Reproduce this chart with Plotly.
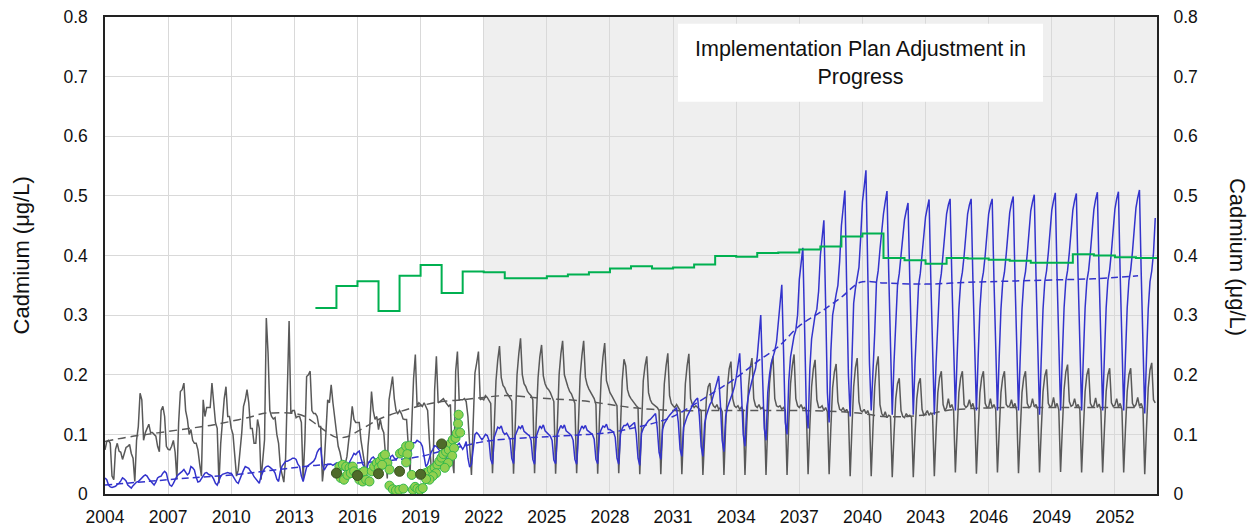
import plotly.graph_objects as go

FONT = "Liberation Sans, Arial, sans-serif"
START_YEAR = 2004

# Simulated monthly cadmium, scenario 1 (grey), one row per year, Jan..Dec
GRAY_MONTHLY = [
    [.074, .088, .090, .085, .030, .024, .075, .085, .072, .070, .058, .070],  # 2004
    [.078, .080, .083, .068, .060, .021, .090, .113, .169, .158, .090, .103],  # 2005
    [.110, .117, .103, .103, .100, .097, .080, .071, .140, .147, .130, .080],  # 2006
    [.075, .074, .080, .090, .070, .025, .120, .172, .175, .186, .140, .125],  # 2007
    [.100, .108, .090, .085, .085, .074, .050, .030, .158, .130, .145, .145],  # 2008
    [.145, .186, .153, .120, .110, .018, .085, .125, .160, .180, .130, .130],  # 2009
    [.110, .100, .060, .030, .040, .070, .103, .147, .158, .175, .153, .110],  # 2010
    [.110, .085, .085, .125, .110, .024, .060, .091, .295, .236, .140, .130],  # 2011
    [.126, .128, .100, .085, .046, .030, .020, .060, .169, .290, .135, .140],  # 2012
    [.140, .128, .130, .130, .120, .024, .090, .197, .200, .206, .140, .135],  # 2013
    [.135, .130, .113, .113, .021, .050, .103, .158, .153, .183, .153, .126],  # 2014
    [.103, .080, .070, .058, .041, .050, .063, .090, .113, .147, .125, .120],  # 2015
    [.120, .120, .090, .070, .052, .021, .080, .113, .172, .140, .125, .130],  # 2016
    [.108, .125, .110, .103, .070, .026, .158, .180, .197, .160, .140, .135],  # 2017
    [.140, .135, .126, .125, .125, .080, .035, .120, .194, .234, .147, .153],  # 2018
    [.150, .147, .153, .145, .140, .090, .046, .021, .175, .231, .153, .155],  # 2019
    [.158, .160, .155, .150, .147, .150, .060, .035, .206, .239, .158, .158],  # 2020
    [.158, .160, .155, .130, .080, .032, .120, .203, .220, .239, .158, .160],  # 2021
    [.158, .165, .162, .158, .152, .035, .125, .190, .225, .248, .195, .182],  # 2022
    [.178, .170, .166, .162, .156, .034, .130, .200, .235, .261, .200, .185],  # 2023
    [.180, .172, .168, .165, .158, .035, .128, .195, .230, .250, .198, .185],  # 2024
    [.178, .175, .170, .163, .155, .034, .130, .200, .235, .257, .200, .188],  # 2025
    [.180, .172, .168, .160, .152, .035, .130, .198, .232, .257, .196, .183],  # 2026
    [.176, .170, .165, .160, .150, .034, .125, .195, .230, .253, .190, .178],  # 2027
    [.170, .165, .160, .155, .148, .035, .120, .190, .226, .215, .175, .165],  # 2028
    [.160, .155, .152, .148, .145, .033, .120, .190, .215, .231, .170, .158],  # 2029
    [.152, .150, .148, .145, .140, .033, .115, .185, .215, .236, .165, .152],  # 2030
    [.148, .145, .150, .145, .140, .033, .115, .185, .215, .235, .160, .150],  # 2031
    [.145, .148, .145, .142, .140, .032, .110, .160, .180, .186, .155, .148],  # 2032
    [.145, .150, .142, .145, .138, .032, .115, .180, .210, .222, .160, .148],  # 2033
    [.145, .148, .142, .146, .140, .032, .115, .180, .212, .228, .160, .148],  # 2034
    [.145, .150, .143, .145, .140, .032, .118, .185, .215, .231, .160, .148],  # 2035
    [.146, .148, .142, .145, .140, .032, .120, .185, .215, .234, .160, .148],  # 2036
    [.145, .150, .143, .145, .140, .033, .115, .180, .210, .225, .158, .145],  # 2037
    [.145, .148, .140, .145, .138, .033, .112, .178, .205, .218, .155, .142],  # 2038
    [.140, .145, .138, .142, .135, .030, .110, .180, .212, .228, .155, .140],  # 2039
    [.138, .142, .135, .140, .132, .030, .110, .180, .215, .231, .150, .135],  # 2040
    [.130, .138, .128, .132, .130, .028, .100, .160, .185, .194, .140, .130],  # 2041
    [.128, .135, .130, .132, .128, .028, .100, .160, .185, .194, .142, .132],  # 2042
    [.135, .140, .132, .136, .132, .030, .105, .170, .195, .206, .150, .140],  # 2043
    [.145, .160, .145, .150, .140, .036, .105, .170, .195, .206, .150, .145],  # 2044
    [.148, .158, .145, .152, .140, .034, .105, .170, .195, .206, .152, .145],  # 2045
    [.146, .160, .144, .150, .142, .036, .105, .170, .195, .206, .150, .146],  # 2046
    [.148, .158, .145, .152, .140, .035, .105, .170, .195, .206, .152, .145],  # 2047
    [.147, .160, .146, .150, .142, .036, .108, .172, .198, .209, .152, .146],  # 2048
    [.148, .162, .145, .152, .141, .037, .110, .175, .205, .217, .155, .147],  # 2049
    [.149, .160, .146, .150, .142, .036, .108, .172, .200, .211, .152, .146],  # 2050
    [.148, .161, .145, .151, .141, .036, .108, .172, .200, .211, .153, .147],  # 2051
    [.149, .160, .146, .152, .142, .036, .108, .172, .200, .211, .152, .146],  # 2052
    [.150, .162, .147, .152, .143, .033, .110, .178, .208, .220, .158, .153],  # 2053
]

# Simulated monthly cadmium, scenario 2 (blue), one row per year, Jan..Dec
BLUE_MONTHLY = [
    [.027, .024, .015, .012, .011, .012, .013, .016, .018, .022, .027, .025],  # 2004
    [.022, .015, .012, .010, .014, .018, .020, .021, .024, .028, .030, .032],  # 2005
    [.030, .025, .021, .017, .015, .020, .027, .029, .030, .035, .038, .035],  # 2006
    [.022, .015, .013, .018, .025, .030, .033, .035, .038, .041, .036, .032],  # 2007
    [.035, .046, .044, .040, .028, .020, .021, .025, .030, .035, .036, .033],  # 2008
    [.032, .030, .025, .018, .015, .022, .030, .033, .034, .035, .036, .035],  # 2009
    [.035, .030, .024, .020, .018, .026, .035, .040, .046, .045, .043, .038],  # 2010
    [.035, .029, .025, .020, .018, .030, .038, .043, .046, .047, .045, .043],  # 2011
    [.040, .035, .025, .021, .038, .047, .052, .055, .055, .056, .058, .060],  # 2012
    [.060, .058, .050, .046, .030, .021, .035, .045, .048, .050, .053, .055],  # 2013
    [.060, .070, .075, .077, .050, .040, .045, .050, .050, .050, .048, .050],  # 2014
    [.052, .050, .048, .045, .040, .040, .045, .050, .055, .062, .068, .066],  # 2015
    [.070, .072, .060, .050, .045, .040, .050, .055, .060, .062, .058, .055],  # 2016
    [.055, .058, .062, .065, .050, .045, .050, .063, .065, .060, .058, .062],  # 2017
    [.065, .068, .070, .068, .055, .050, .070, .080, .086, .086, .090, .088],  # 2018
    [.086, .080, .060, .046, .050, .060, .070, .075, .081, .080, .075, .072],  # 2019
    [.070, .072, .068, .060, .048, .050, .070, .078, .081, .082, .085, .080],  # 2020
    [.075, .080, .088, .060, .045, .050, .080, .100, .103, .100, .095, .091],  # 2021
    [.095, .100, .098, .090, .058, .050, .095, .104, .112, .110, .114, .104],  # 2022
    [.100, .102, .098, .092, .060, .051, .098, .106, .113, .110, .115, .105],  # 2023
    [.102, .100, .098, .090, .058, .050, .097, .107, .114, .110, .116, .106],  # 2024
    [.103, .100, .097, .090, .057, .051, .100, .108, .115, .110, .116, .106],  # 2025
    [.104, .101, .098, .090, .058, .050, .100, .108, .114, .110, .115, .107],  # 2026
    [.105, .102, .100, .092, .058, .051, .100, .108, .114, .112, .117, .108],  # 2027
    [.108, .106, .104, .095, .060, .050, .100, .110, .115, .115, .118, .112],  # 2028
    [.115, .118, .120, .100, .060, .048, .102, .110, .115, .120, .123, .125],  # 2029
    [.128, .132, .135, .110, .070, .058, .108, .118, .124, .128, .132, .136],  # 2030
    [.138, .142, .144, .120, .075, .063, .112, .122, .130, .136, .142, .150],  # 2031
    [.154, .158, .161, .130, .080, .063, .118, .132, .142, .150, .155, .165],  # 2032
    [.175, .188, .198, .150, .090, .071, .130, .145, .155, .162, .170, .180],  # 2033
    [.195, .215, .236, .170, .100, .080, .145, .165, .180, .190, .200, .210],  # 2034
    [.230, .260, .300, .200, .110, .090, .170, .200, .220, .230, .240, .255],  # 2035
    [.290, .320, .351, .240, .120, .100, .190, .230, .250, .265, .275, .300],  # 2036
    [.360, .390, .413, .280, .140, .110, .210, .260, .285, .300, .310, .340],  # 2037
    [.400, .430, .459, .320, .170, .120, .240, .300, .320, .335, .350, .390],  # 2038
    [.450, .480, .509, .350, .200, .130, .250, .320, .345, .360, .380, .430],  # 2039
    [.490, .515, .543, .380, .220, .140, .200, .270, .355, .375, .410, .445],  # 2040
    [.470, .490, .508, .370, .240, .133, .220, .300, .350, .370, .400, .435],  # 2041
    [.460, .475, .488, .360, .230, .133, .220, .300, .350, .370, .400, .440],  # 2042
    [.465, .480, .494, .360, .230, .133, .220, .300, .350, .370, .400, .440],  # 2043
    [.470, .485, .495, .360, .230, .140, .230, .310, .355, .372, .400, .440],  # 2044
    [.470, .485, .495, .360, .230, .140, .230, .310, .355, .372, .400, .440],  # 2045
    [.470, .485, .495, .360, .230, .140, .230, .310, .355, .372, .402, .442],  # 2046
    [.472, .488, .499, .362, .232, .140, .230, .310, .356, .373, .403, .444],  # 2047
    [.475, .490, .502, .365, .235, .133, .228, .310, .356, .374, .404, .445],  # 2048
    [.476, .492, .505, .366, .236, .140, .230, .312, .357, .375, .405, .446],  # 2049
    [.476, .492, .504, .366, .236, .140, .230, .312, .357, .375, .405, .446],  # 2050
    [.477, .494, .506, .367, .237, .140, .230, .312, .358, .376, .406, .447],  # 2051
    [.478, .495, .507, .368, .238, .140, .230, .312, .358, .376, .406, .447],  # 2052
    [.480, .497, .510, .370, .238, .135, .228, .310, .356, .374, .404, .463],  # 2053
]

# Long-term trend of each scenario
GRAY_TREND_X = [2004, 2005, 2006, 2007, 2008, 2009, 2010, 2011, 2011.5, 2012, 2013,
                2013.5, 2014, 2014.5, 2015, 2015.5, 2016, 2016.5, 2017, 2018, 2019,
                2020, 2021, 2022, 2023, 2024, 2025, 2026, 2027, 2028, 2029, 2030,
                2031, 2033, 2035, 2037, 2039, 2040, 2041, 2042, 2043, 2044, 2045,
                2047, 2049, 2051, 2053.3]
GRAY_TREND_Y = [.088, .095, .100, .105, .110, .115, .122, .130, .135, .136, .135,
                .130, .118, .105, .095, .096, .105, .115, .125, .138, .148,
                .155, .158, .162, .165, .163, .160, .158, .155, .150, .145, .142,
                .140, .140, .140, .140, .138, .135, .130, .130, .133, .140, .143,
                .145, .145, .145, .145]

BLUE_TREND_X = [2004, 2006, 2008, 2010, 2012, 2014, 2016, 2018, 2019, 2020, 2021,
                2022, 2023, 2025, 2027, 2028, 2029, 2030, 2031, 2032, 2033, 2034,
                2035, 2036, 2037, 2038, 2039, 2039.9, 2041, 2043, 2045, 2047, 2049,
                2051, 2053.1]
BLUE_TREND_Y = [.015, .021, .027, .032, .040, .048, .052, .058, .063, .072, .080,
                .088, .092, .096, .100, .103, .110, .118, .130, .150, .172, .195,
                .222, .247, .282, .305, .330, .355, .354, .352, .355, .357, .359,
                .361, .366]

# Annual target level (step line)
STEP_YEARS = [2014, 2015, 2016, 2017, 2018, 2019, 2020, 2021, 2022, 2023, 2024,
              2025, 2026, 2027, 2028, 2029, 2030, 2031, 2032, 2033, 2034, 2035,
              2036, 2037, 2038, 2039, 2040, 2041, 2042, 2043, 2044, 2045, 2046,
              2047, 2048, 2049, 2050, 2051, 2052, 2053, 2054]
STEP_VALUES = [.312, .349, .357, .307, .366, .384, .337, .373, .372, .362, .362,
               .365, .368, .372, .378, .382, .378, .380, .385, .399, .398, .404,
               .405, .410, .415, .432, .437, .396, .392, .386, .396, .395, .393,
               .391, .388, .388, .402, .400, .397, .396, .396]

# Measured samples
OBS_X = [2015.14, 2015.30, 2015.46, 2015.62, 2015.77, 2015.04, 2015.20, 2015.36,
         2015.52, 2015.68, 2015.84, 2015.96, 2016.09, 2016.25, 2016.41, 2016.57,
         2016.15, 2016.31, 2016.68, 2016.79, 2016.92, 2017.07, 2017.20, 2017.31,
         2017.42, 2017.52, 2017.01, 2017.17, 2017.52, 2017.68, 2017.83, 2017.99,
         2018.18, 2018.02, 2018.15, 2018.31, 2018.47, 2018.37, 2018.31, 2018.58,
         2018.63, 2018.74, 2018.85, 2018.98, 2019.10, 2019.23, 2019.39, 2019.53,
         2019.67, 2019.80, 2019.89, 2019.99, 2020.08, 2020.21, 2020.34, 2020.43,
         2020.53, 2020.59, 2020.66, 2020.72, 2020.78, 2020.81, 2020.88, 2020.50,
         2020.31, 2020.15, 2019.74, 2019.58, 2019.42, 2019.26]
OBS_Y = [.046, .049, .046, .044, .046, .035, .027, .024,
         .032, .035, .038, .032, .024, .021, .024, .021,
         .035, .038, .038, .046, .052, .055, .063, .066,
         .052, .041, .044, .049, .014, .008, .006, .007,
         .009, .068, .071, .080, .081, .067, .053, .032,
         .007, .012, .009, .007, .010, .035, .038, .041,
         .044, .049, .055, .061, .067, .071, .074, .085,
         .091, .077, .094, .102, .118, .133, .103, .064,
         .052, .044, .035, .030, .024, .025]

# Annual mean of the samples
ANNUAL_X = [2015.0, 2016.0, 2017.0, 2018.0, 2019.0, 2020.0]
ANNUAL_Y = [.035, .031, .034, .038, .033, .084]

X_TICKS = list(range(2004, 2053, 3))
Y_TICKS = [0, 0.1, 0.2, 0.3, 0.4, 0.5, 0.6, 0.7, 0.8]
Y_TICK_LABELS = ["0", "0.1", "0.2", "0.3", "0.4", "0.5", "0.6", "0.7", "0.8"]
FORECAST_START = 2022
X_END = 2054


def monthly_xy(rows):
    xs, ys = [], []
    for i, row in enumerate(rows):
        for m, v in enumerate(row):
            xs.append(START_YEAR + i + m / 12)
            ys.append(v)
    return xs, ys


gx, gy = monthly_xy(GRAY_MONTHLY)
bx, by = monthly_xy(BLUE_MONTHLY)

fig = go.Figure()

fig.add_trace(go.Scatter(x=gx, y=gy, mode="lines",
                         line=dict(color="#595959", width=1.5)))
fig.add_trace(go.Scatter(x=GRAY_TREND_X, y=GRAY_TREND_Y, mode="lines",
                         line=dict(color="#595959", width=1.5, dash="8px,5px", shape="spline")))
fig.add_trace(go.Scatter(x=bx, y=by, mode="lines",
                         line=dict(color="#3333cc", width=1.5)))
fig.add_trace(go.Scatter(x=BLUE_TREND_X, y=BLUE_TREND_Y, mode="lines",
                         line=dict(color="#3333cc", width=1.5, dash="7px,4px", shape="spline")))
fig.add_trace(go.Scatter(x=STEP_YEARS, y=STEP_VALUES, mode="lines",
                         line=dict(color="#00b050", width=2, shape="hv")))
fig.add_trace(go.Scatter(x=OBS_X, y=OBS_Y, mode="markers",
                         marker=dict(size=9, color="#92d050",
                                     line=dict(color="#33b84a", width=1))))
fig.add_trace(go.Scatter(x=ANNUAL_X, y=ANNUAL_Y, mode="markers",
                         marker=dict(size=10, color="#4f6b2a",
                                     line=dict(color="#3b5020", width=1))))
# carrier for the right-hand axis
fig.add_trace(go.Scatter(x=[START_YEAR], y=[0], yaxis="y2", mode="markers",
                         marker=dict(opacity=0), hoverinfo="skip"))

# forecast period shading
fig.add_shape(type="rect", xref="x", yref="y", x0=FORECAST_START, x1=X_END,
              y0=0, y1=0.8, fillcolor="#efefef", line_width=0, layer="below")

# note box
fig.add_shape(type="rect", xref="paper", yref="paper", x0=0.5447, x1=0.8916,
              y0=0.8224, y1=0.986, fillcolor="white", line_width=0, layer="above")
fig.add_annotation(xref="paper", yref="paper", x=0.718, y=0.904,
                   xanchor="center", yanchor="middle",
                   text="Implementation Plan Adjustment in<br>Progress",
                   showarrow=False, font=dict(family=FONT, size=21.5, color="#111111"),
                   align="center")

axis_title = "Cadmium (μg/L)"
fig.add_annotation(xref="paper", yref="paper", x=-0.079, y=0.5, text=axis_title,
                   xanchor="center", yanchor="middle",
                   textangle=-90, showarrow=False,
                   font=dict(family=FONT, size=22, color="#111111"))
fig.add_annotation(xref="paper", yref="paper", x=1.076, y=0.497, text=axis_title,
                   xanchor="center", yanchor="middle",
                   textangle=90, showarrow=False,
                   font=dict(family=FONT, size=22, color="#111111"))

tick_font = dict(family=FONT, size=17.5, color="#111111")

fig.update_layout(
    width=1257, height=527,
    margin=dict(l=105, r=100, t=17, b=33, autoexpand=False),
    paper_bgcolor="white", plot_bgcolor="white",
    showlegend=False,
    xaxis=dict(range=[START_YEAR, X_END], tickvals=X_TICKS, automargin=False,
               ticktext=[str(t) for t in X_TICKS], tickfont=tick_font,
               showgrid=True, gridcolor="#d9d9d9", gridwidth=1, zeroline=False,
               showline=True, linecolor="#222222", linewidth=1.5, mirror=True,
               ticks="outside", ticklen=6, tickcolor="rgba(0,0,0,0)"),
    yaxis=dict(range=[0, 0.8], tickvals=Y_TICKS, ticktext=Y_TICK_LABELS,
               automargin=False,
               tickfont=tick_font, showgrid=True, gridcolor="#d9d9d9",
               gridwidth=1, zeroline=False, showline=True, linecolor="#222222",
               linewidth=1.5, mirror=True, ticks="outside", ticklen=12,
               tickcolor="rgba(0,0,0,0)"),
    yaxis2=dict(range=[0, 0.8], tickvals=Y_TICKS, ticktext=Y_TICK_LABELS,
                automargin=False,
                tickfont=tick_font, overlaying="y", side="right", showgrid=False,
                zeroline=False, showline=False, ticks="outside", ticklen=12,
                tickcolor="rgba(0,0,0,0)"),
)

fig.write_html("out.html")
